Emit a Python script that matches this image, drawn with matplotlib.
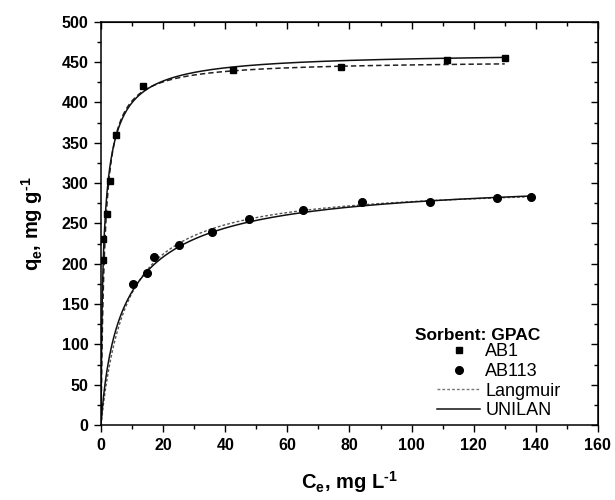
"""Sorption isotherms of AB1 and AB113 on GPAC with Langmuir and UNILAN fits."""

import matplotlib
matplotlib.use("Agg")
import matplotlib.pyplot as plt
import numpy as np
from matplotlib.lines import Line2D

plt.rcParams["font.family"] = ["Liberation Sans", "DejaVu Sans"]
plt.rcParams["mathtext.fontset"] = "custom"
plt.rcParams["mathtext.rm"] = "Liberation Sans:bold"
plt.rcParams["mathtext.bf"] = "Liberation Sans:bold"
plt.rcParams["mathtext.default"] = "bf"

# experimental points
ab1_ce = [0.6, 0.8, 2.0, 2.9, 4.8, 13.6, 42.6, 77.3, 111.3, 130]
ab1_qe = [205, 230, 262, 303, 359, 420, 440, 444, 453, 455]
ab113_ce = [10.2, 14.7, 17.1, 25.2, 35.7, 47.7, 65.1, 83.9, 105.9, 127.5, 138.5]
ab113_qe = [175, 188, 208, 223, 239, 256, 266, 276, 276, 282, 283]

# fitted isotherm parameters (qm, K) and (qm, K, s)
langmuir_ab1 = (452, 0.8)
langmuir_ab113 = (300, 0.12)
unilan_ab1 = (462, 1.0, 2.0)
unilan_ab113 = (307, 0.12, 1.5)

legend_labels = ["AB1", "AB113", "Langmuir", "UNILAN"]


def langmuir(c, qm, k):
    return qm * k * c / (1 + k * c)


def unilan(c, qm, k, s):
    return qm / (2 * s) * np.log((1 + k * np.exp(s) * c) / (1 + k * np.exp(-s) * c))


def main():
    fig = plt.figure(figsize=(6.15, 5.0), dpi=100)
    ax = fig.add_axes([0.1642, 0.15, 0.808, 0.8066])

    c1 = np.linspace(0, max(ab1_ce), 600)
    c2 = np.linspace(0, max(ab113_ce), 600)

    ax.plot(c1, langmuir(c1, *langmuir_ab1), color="#222222", lw=1.1,
            linestyle=(0, (3.5, 2)))
    ax.plot(c1, unilan(c1, *unilan_ab1), color="#111111", lw=1.1)
    ax.plot(c2, langmuir(c2, *langmuir_ab113), color="#555555", lw=1.0,
            linestyle=(0, (2, 1.5)))
    ax.plot(c2, unilan(c2, *unilan_ab113), color="#111111", lw=1.1)

    ax.plot(ab1_ce, ab1_qe, "s", color="black", ms=5, zorder=5)
    ax.plot(ab113_ce, ab113_qe, "o", color="black", ms=5.5, zorder=5)

    ax.set_xlim(0, 160)
    ax.set_ylim(0, 500)
    ax.set_xticks(np.arange(0, 161, 20))
    ax.set_xticks(np.arange(0, 161, 10), minor=True)
    ax.set_yticks(np.arange(0, 501, 50))
    ax.set_yticks(np.arange(0, 501, 25), minor=True)
    ax.tick_params(which="both", direction="out", width=1.0)
    ax.tick_params(which="major", length=5, labelsize=11.5, pad=4)
    ax.tick_params(which="minor", length=3)

    # mirrored axes with inward ticks on top and right
    top = ax.secondary_xaxis("top")
    top.set_xticks(np.arange(0, 161, 20))
    top.set_xticks(np.arange(0, 161, 10), minor=True)
    top.xaxis.set_ticklabels([])
    right = ax.secondary_yaxis("right")
    right.set_yticks(np.arange(0, 501, 50))
    right.set_yticks(np.arange(0, 501, 25), minor=True)
    right.yaxis.set_ticklabels([])
    for sec in (top, right):
        sec.tick_params(which="both", direction="in", width=1.0)
        sec.tick_params(which="major", length=5)
        sec.tick_params(which="minor", length=3)

    for lab in ax.get_xticklabels() + ax.get_yticklabels():
        lab.set_fontweight("bold")
    for sp in ax.spines.values():
        sp.set_linewidth(1.1)

    ax.set_xlabel(r"C$_e$, mg L$^{\text{-}1}$", fontsize=14.5,
                  fontweight="bold", labelpad=12)
    ax.set_ylabel(r"q$_e$, mg g$^{\text{-}1}$", fontsize=14.5,
                  fontweight="bold", labelpad=12)

    handles = [
        Line2D([], [], marker="s", color="black", ls="none", ms=5),
        Line2D([], [], marker="o", color="black", ls="none", ms=5.5),
        Line2D([], [], color="#777777", lw=1.0, ls=(0, (2, 1.5))),
        Line2D([], [], color="#111111", lw=1.1),
    ]
    ax.text(0.632, 0.223, "Sorbent: GPAC", transform=ax.transAxes,
            fontsize=12.5, fontweight="bold", ha="left", va="center")
    ax.legend(handles, legend_labels, loc="upper left",
              bbox_to_anchor=(0.676, 0.203), frameon=False,
              fontsize=13, handlelength=2.4, labelspacing=0.15,
              handletextpad=0.28, borderpad=0, borderaxespad=0)

    fig.savefig("out.png", dpi=100)


if __name__ == "__main__":
    main()
